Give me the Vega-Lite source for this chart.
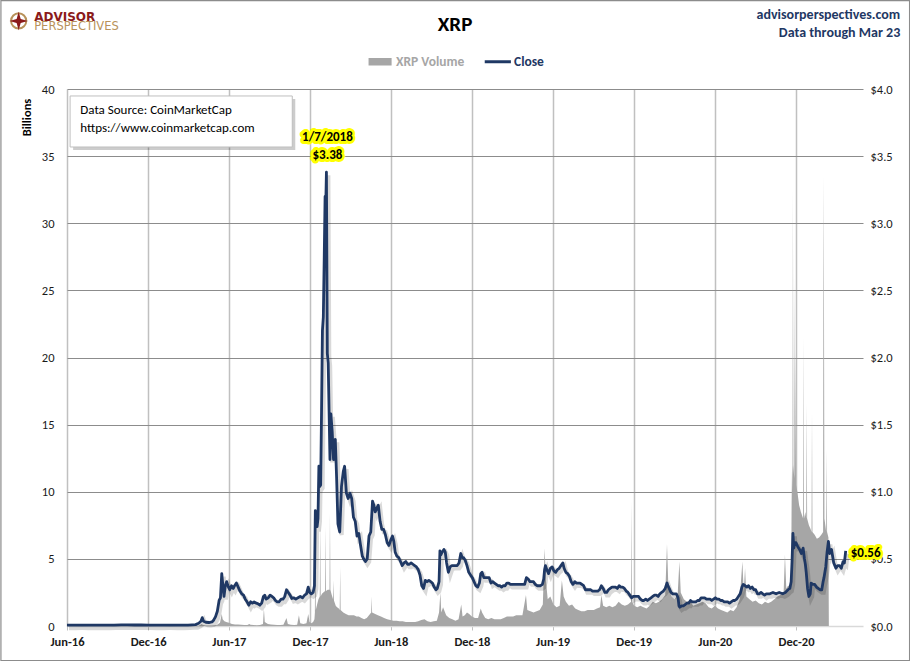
{
  "$schema": "https://vega.github.io/schema/vega-lite/v6.json",
  "width": 796,
  "height": 537,
  "autosize": "none",
  "padding": {"left": 67, "top": 89, "right": 47, "bottom": 35},
  "background": "white",
  "datasets": {
    "vol": [
      {"d":"2016-06-01","v":0.001},{"d":"2016-09-01","v":0.002},{"d":"2016-12-01","v":0.002},{"d":"2017-03-01","v":0.003},{"d":"2017-03-25","v":0.02},{"d":"2017-04-01","v":0.15},{"d":"2017-04-03","v":0.1},{"d":"2017-04-10","v":0.03},{"d":"2017-04-24","v":0.03},{"d":"2017-05-05","v":0.08},{"d":"2017-05-12","v":0.25},{"d":"2017-05-16","v":0.9},{"d":"2017-05-18","v":0.5},{"d":"2017-05-22","v":0.35},{"d":"2017-05-26","v":0.3},{"d":"2017-06-01","v":0.25},{"d":"2017-06-08","v":0.15},{"d":"2017-06-15","v":0.12},{"d":"2017-06-22","v":0.12},{"d":"2017-06-29","v":0.1},{"d":"2017-07-06","v":0.08},{"d":"2017-07-13","v":0.08},{"d":"2017-07-17","v":0.15},{"d":"2017-07-20","v":0.1},{"d":"2017-07-27","v":0.08},{"d":"2017-08-03","v":0.06},{"d":"2017-08-10","v":0.07},{"d":"2017-08-17","v":0.15},{"d":"2017-08-19","v":1.3},{"d":"2017-08-21","v":0.3},{"d":"2017-08-28","v":0.15},{"d":"2017-09-04","v":0.12},{"d":"2017-09-11","v":0.1},{"d":"2017-09-18","v":0.08},{"d":"2017-09-25","v":0.08},{"d":"2017-10-02","v":0.1},{"d":"2017-10-09","v":0.6},{"d":"2017-10-12","v":0.15},{"d":"2017-10-19","v":0.1},{"d":"2017-10-26","v":0.08},{"d":"2017-11-02","v":0.1},{"d":"2017-11-06","v":0.8},{"d":"2017-11-09","v":0.2},{"d":"2017-11-16","v":0.15},{"d":"2017-11-23","v":0.2},{"d":"2017-11-27","v":0.9},{"d":"2017-11-30","v":0.3},{"d":"2017-12-04","v":0.2},{"d":"2017-12-08","v":0.3},{"d":"2017-12-11","v":0.5},{"d":"2017-12-12","v":1.0},{"d":"2017-12-13","v":7.4},{"d":"2017-12-14","v":1.2},{"d":"2017-12-17","v":1.6},{"d":"2017-12-20","v":2.0},{"d":"2017-12-23","v":2.2},{"d":"2017-12-24","v":7.7},{"d":"2017-12-25","v":2.2},{"d":"2017-12-28","v":2.4},{"d":"2017-12-31","v":2.5},{"d":"2018-01-04","v":2.6},{"d":"2018-01-05","v":7.4},{"d":"2018-01-06","v":2.6},{"d":"2018-01-10","v":2.7},{"d":"2018-01-14","v":2.7},{"d":"2018-01-15","v":8.4},{"d":"2018-01-16","v":2.7},{"d":"2018-01-19","v":2.3},{"d":"2018-01-22","v":2.0},{"d":"2018-01-23","v":3.4},{"d":"2018-01-24","v":1.9},{"d":"2018-01-28","v":1.5},{"d":"2018-01-31","v":1.4},{"d":"2018-02-04","v":1.3},{"d":"2018-02-06","v":1.2},{"d":"2018-02-07","v":4.4},{"d":"2018-02-08","v":1.2},{"d":"2018-02-14","v":1.0},{"d":"2018-02-20","v":0.9},{"d":"2018-02-26","v":0.8},{"d":"2018-03-04","v":0.8},{"d":"2018-03-10","v":0.8},{"d":"2018-03-16","v":0.7},{"d":"2018-03-21","v":0.7},{"d":"2018-03-27","v":0.6},{"d":"2018-04-02","v":0.5},{"d":"2018-04-08","v":0.6},{"d":"2018-04-13","v":0.8},{"d":"2018-04-18","v":1.0},{"d":"2018-04-19","v":2.2},{"d":"2018-04-20","v":1.0},{"d":"2018-04-27","v":0.9},{"d":"2018-05-03","v":0.8},{"d":"2018-05-10","v":0.7},{"d":"2018-05-17","v":0.6},{"d":"2018-05-24","v":0.5},{"d":"2018-05-31","v":0.45},{"d":"2018-06-07","v":0.4},{"d":"2018-06-14","v":0.4},{"d":"2018-06-21","v":0.35},{"d":"2018-06-28","v":0.35},{"d":"2018-07-05","v":0.3},{"d":"2018-07-12","v":0.3},{"d":"2018-07-19","v":0.3},{"d":"2018-07-26","v":0.3},{"d":"2018-08-02","v":0.35},{"d":"2018-08-09","v":0.45},{"d":"2018-08-16","v":0.5},{"d":"2018-08-23","v":0.35},{"d":"2018-08-30","v":0.3},{"d":"2018-09-06","v":0.35},{"d":"2018-09-13","v":0.4},{"d":"2018-09-18","v":1.0},{"d":"2018-09-21","v":2.5},{"d":"2018-09-23","v":1.0},{"d":"2018-09-27","v":1.4},{"d":"2018-10-04","v":0.8},{"d":"2018-10-11","v":0.6},{"d":"2018-10-18","v":0.5},{"d":"2018-10-25","v":0.4},{"d":"2018-11-01","v":0.5},{"d":"2018-11-07","v":1.6},{"d":"2018-11-10","v":0.7},{"d":"2018-11-15","v":0.8},{"d":"2018-11-20","v":1.0},{"d":"2018-11-25","v":0.9},{"d":"2018-12-01","v":0.7},{"d":"2018-12-08","v":0.6},{"d":"2018-12-15","v":0.6},{"d":"2018-12-21","v":1.3},{"d":"2018-12-24","v":1.0},{"d":"2018-12-31","v":0.6},{"d":"2019-01-07","v":0.5},{"d":"2019-01-14","v":0.6},{"d":"2019-01-21","v":0.5},{"d":"2019-01-28","v":0.5},{"d":"2019-02-04","v":0.5},{"d":"2019-02-11","v":0.6},{"d":"2019-02-18","v":0.7},{"d":"2019-02-25","v":0.7},{"d":"2019-03-04","v":0.7},{"d":"2019-03-11","v":0.8},{"d":"2019-03-18","v":0.8},{"d":"2019-03-25","v":0.8},{"d":"2019-04-02","v":2.3},{"d":"2019-04-05","v":1.2},{"d":"2019-04-12","v":1.1},{"d":"2019-04-19","v":1.0},{"d":"2019-04-26","v":1.1},{"d":"2019-05-03","v":1.2},{"d":"2019-05-10","v":1.6},{"d":"2019-05-14","v":5.8},{"d":"2019-05-17","v":3.4},{"d":"2019-05-21","v":2.0},{"d":"2019-05-27","v":2.2},{"d":"2019-06-03","v":1.6},{"d":"2019-06-10","v":1.4},{"d":"2019-06-17","v":1.5},{"d":"2019-06-22","v":3.4},{"d":"2019-06-26","v":2.2},{"d":"2019-07-01","v":1.8},{"d":"2019-07-08","v":1.5},{"d":"2019-07-15","v":1.6},{"d":"2019-07-22","v":1.3},{"d":"2019-07-29","v":1.2},{"d":"2019-08-05","v":1.1},{"d":"2019-08-12","v":1.1},{"d":"2019-08-19","v":1.2},{"d":"2019-08-26","v":1.2},{"d":"2019-09-02","v":1.2},{"d":"2019-09-09","v":1.3},{"d":"2019-09-16","v":1.4},{"d":"2019-09-19","v":2.3},{"d":"2019-09-23","v":1.5},{"d":"2019-09-30","v":1.4},{"d":"2019-10-07","v":1.5},{"d":"2019-10-14","v":1.4},{"d":"2019-10-21","v":1.5},{"d":"2019-10-28","v":1.8},{"d":"2019-11-04","v":1.6},{"d":"2019-11-11","v":1.5},{"d":"2019-11-18","v":1.6},{"d":"2019-11-25","v":1.8},{"d":"2019-11-26","v":9.3},{"d":"2019-11-27","v":1.8},{"d":"2019-12-02","v":1.5},{"d":"2019-12-09","v":1.4},{"d":"2019-12-16","v":1.5},{"d":"2019-12-23","v":1.4},{"d":"2019-12-30","v":1.3},{"d":"2020-01-06","v":1.5},{"d":"2020-01-13","v":1.8},{"d":"2020-01-20","v":1.7},{"d":"2020-01-27","v":1.8},{"d":"2020-02-03","v":2.0},{"d":"2020-02-10","v":2.3},{"d":"2020-02-14","v":6.1},{"d":"2020-02-17","v":3.0},{"d":"2020-02-24","v":2.2},{"d":"2020-03-02","v":2.0},{"d":"2020-03-09","v":2.3},{"d":"2020-03-13","v":4.8},{"d":"2020-03-16","v":2.5},{"d":"2020-03-23","v":2.0},{"d":"2020-03-30","v":1.8},{"d":"2020-04-06","v":1.9},{"d":"2020-04-13","v":1.5},{"d":"2020-04-20","v":1.6},{"d":"2020-04-27","v":1.7},{"d":"2020-05-04","v":1.8},{"d":"2020-05-11","v":1.7},{"d":"2020-05-18","v":1.4},{"d":"2020-05-25","v":1.3},{"d":"2020-06-01","v":1.5},{"d":"2020-06-08","v":1.3},{"d":"2020-06-15","v":1.2},{"d":"2020-06-22","v":1.1},{"d":"2020-06-29","v":1.0},{"d":"2020-07-06","v":1.2},{"d":"2020-07-13","v":1.1},{"d":"2020-07-20","v":1.4},{"d":"2020-07-27","v":2.0},{"d":"2020-08-02","v":4.8},{"d":"2020-08-05","v":2.5},{"d":"2020-08-08","v":4.3},{"d":"2020-08-11","v":2.2},{"d":"2020-08-18","v":2.0},{"d":"2020-08-25","v":1.8},{"d":"2020-09-01","v":1.9},{"d":"2020-09-08","v":1.7},{"d":"2020-09-15","v":1.6},{"d":"2020-09-22","v":1.8},{"d":"2020-09-29","v":1.7},{"d":"2020-10-06","v":1.8},{"d":"2020-10-13","v":2.0},{"d":"2020-10-20","v":2.2},{"d":"2020-10-27","v":2.3},{"d":"2020-11-03","v":2.5},{"d":"2020-11-06","v":5.3},{"d":"2020-11-09","v":2.8},{"d":"2020-11-13","v":3.0},{"d":"2020-11-17","v":3.0},{"d":"2020-11-20","v":3.5},{"d":"2020-11-21","v":9},{"d":"2020-11-22","v":12},{"d":"2020-11-23","v":10},{"d":"2020-11-24","v":32.5},{"d":"2020-11-25","v":12},{"d":"2020-11-27","v":11},{"d":"2020-11-28","v":26},{"d":"2020-11-29","v":11},{"d":"2020-11-30","v":20.5},{"d":"2020-12-01","v":10.5},{"d":"2020-12-04","v":10},{"d":"2020-12-08","v":9},{"d":"2020-12-12","v":8.5},{"d":"2020-12-17","v":8},{"d":"2020-12-18","v":21.5},{"d":"2020-12-19","v":8},{"d":"2020-12-22","v":8.5},{"d":"2020-12-24","v":8},{"d":"2020-12-25","v":16.6},{"d":"2020-12-26","v":8},{"d":"2020-12-30","v":7.5},{"d":"2021-01-03","v":7.2},{"d":"2021-01-05","v":7},{"d":"2021-01-06","v":15.9},{"d":"2021-01-07","v":7},{"d":"2021-01-12","v":6.8},{"d":"2021-01-17","v":6.5},{"d":"2021-01-22","v":6.6},{"d":"2021-01-27","v":6.8},{"d":"2021-01-31","v":7},{"d":"2021-02-01","v":33.5},{"d":"2021-02-02","v":24.3},{"d":"2021-02-03","v":8},{"d":"2021-02-07","v":7},{"d":"2021-02-08","v":13.1},{"d":"2021-02-09","v":7},{"d":"2021-02-12","v":6.6},{"d":"2021-02-13","v":0}
    ],
    "px": [
      {"d":"2016-06-01","c":0.0065},{"d":"2016-06-15","c":0.006},{"d":"2016-07-01","c":0.0066},{"d":"2016-07-15","c":0.0064},{"d":"2016-08-01","c":0.0062},{"d":"2016-08-15","c":0.0062},{"d":"2016-09-01","c":0.0065},{"d":"2016-09-15","c":0.007},{"d":"2016-10-01","c":0.0078},{"d":"2016-10-15","c":0.008},{"d":"2016-11-01","c":0.0076},{"d":"2016-11-15","c":0.0085},{"d":"2016-12-01","c":0.007},{"d":"2016-12-15","c":0.0064},{"d":"2017-01-01","c":0.0064},{"d":"2017-01-15","c":0.0068},{"d":"2017-02-01","c":0.0063},{"d":"2017-02-15","c":0.0065},{"d":"2017-03-01","c":0.007},{"d":"2017-03-10","c":0.0085},{"d":"2017-03-18","c":0.01},{"d":"2017-03-25","c":0.02},{"d":"2017-03-30","c":0.035},{"d":"2017-04-02","c":0.062},{"d":"2017-04-05","c":0.035},{"d":"2017-04-10","c":0.028},{"d":"2017-04-17","c":0.026},{"d":"2017-04-24","c":0.03},{"d":"2017-04-28","c":0.045},{"d":"2017-05-02","c":0.07},{"d":"2017-05-06","c":0.11},{"d":"2017-05-10","c":0.19},{"d":"2017-05-13","c":0.21},{"d":"2017-05-16","c":0.39},{"d":"2017-05-18","c":0.32},{"d":"2017-05-21","c":0.22},{"d":"2017-05-24","c":0.3},{"d":"2017-05-27","c":0.33},{"d":"2017-05-31","c":0.29},{"d":"2017-06-03","c":0.27},{"d":"2017-06-07","c":0.3},{"d":"2017-06-11","c":0.28},{"d":"2017-06-14","c":0.3},{"d":"2017-06-18","c":0.32},{"d":"2017-06-22","c":0.29},{"d":"2017-06-26","c":0.26},{"d":"2017-06-30","c":0.24},{"d":"2017-07-04","c":0.23},{"d":"2017-07-08","c":0.2},{"d":"2017-07-12","c":0.18},{"d":"2017-07-16","c":0.155},{"d":"2017-07-20","c":0.18},{"d":"2017-07-24","c":0.17},{"d":"2017-07-28","c":0.18},{"d":"2017-08-02","c":0.17},{"d":"2017-08-06","c":0.165},{"d":"2017-08-10","c":0.155},{"d":"2017-08-14","c":0.17},{"d":"2017-08-18","c":0.22},{"d":"2017-08-21","c":0.23},{"d":"2017-08-24","c":0.2},{"d":"2017-08-29","c":0.21},{"d":"2017-09-02","c":0.23},{"d":"2017-09-06","c":0.22},{"d":"2017-09-10","c":0.21},{"d":"2017-09-14","c":0.19},{"d":"2017-09-18","c":0.18},{"d":"2017-09-22","c":0.18},{"d":"2017-09-27","c":0.2},{"d":"2017-10-01","c":0.2},{"d":"2017-10-05","c":0.22},{"d":"2017-10-09","c":0.27},{"d":"2017-10-13","c":0.25},{"d":"2017-10-17","c":0.23},{"d":"2017-10-21","c":0.205},{"d":"2017-10-25","c":0.21},{"d":"2017-10-30","c":0.2},{"d":"2017-11-04","c":0.21},{"d":"2017-11-09","c":0.22},{"d":"2017-11-14","c":0.21},{"d":"2017-11-19","c":0.23},{"d":"2017-11-23","c":0.24},{"d":"2017-11-27","c":0.29},{"d":"2017-11-30","c":0.25},{"d":"2017-12-04","c":0.24},{"d":"2017-12-08","c":0.25},{"d":"2017-12-11","c":0.3},{"d":"2017-12-13","c":0.86},{"d":"2017-12-15","c":0.74},{"d":"2017-12-17","c":0.74},{"d":"2017-12-19","c":0.8},{"d":"2017-12-21","c":1.19},{"d":"2017-12-23","c":1.04},{"d":"2017-12-25","c":1.05},{"d":"2017-12-27","c":1.6},{"d":"2017-12-29","c":2.2},{"d":"2017-12-31","c":2.3},{"d":"2018-01-02","c":2.73},{"d":"2018-01-04","c":3.2},{"d":"2018-01-05","c":3.05},{"d":"2018-01-07","c":3.38},{"d":"2018-01-09","c":2.03},{"d":"2018-01-11","c":1.96},{"d":"2018-01-15","c":1.24},{"d":"2018-01-17","c":1.58},{"d":"2018-01-20","c":1.45},{"d":"2018-01-23","c":1.24},{"d":"2018-01-27","c":1.39},{"d":"2018-01-30","c":1.1},{"d":"2018-02-02","c":0.76},{"d":"2018-02-06","c":0.7},{"d":"2018-02-10","c":1.04},{"d":"2018-02-14","c":1.15},{"d":"2018-02-17","c":1.19},{"d":"2018-02-21","c":0.99},{"d":"2018-02-25","c":0.95},{"d":"2018-03-01","c":0.99},{"d":"2018-03-05","c":0.95},{"d":"2018-03-09","c":0.81},{"d":"2018-03-13","c":0.78},{"d":"2018-03-17","c":0.67},{"d":"2018-03-21","c":0.69},{"d":"2018-03-25","c":0.6},{"d":"2018-03-29","c":0.52},{"d":"2018-04-01","c":0.5},{"d":"2018-04-05","c":0.48},{"d":"2018-04-09","c":0.5},{"d":"2018-04-13","c":0.67},{"d":"2018-04-17","c":0.7},{"d":"2018-04-21","c":0.93},{"d":"2018-04-24","c":0.9},{"d":"2018-04-27","c":0.85},{"d":"2018-05-01","c":0.88},{"d":"2018-05-04","c":0.9},{"d":"2018-05-08","c":0.78},{"d":"2018-05-12","c":0.72},{"d":"2018-05-16","c":0.72},{"d":"2018-05-20","c":0.68},{"d":"2018-05-24","c":0.62},{"d":"2018-05-28","c":0.6},{"d":"2018-06-01","c":0.64},{"d":"2018-06-05","c":0.67},{"d":"2018-06-08","c":0.63},{"d":"2018-06-11","c":0.55},{"d":"2018-06-15","c":0.52},{"d":"2018-06-19","c":0.51},{"d":"2018-06-23","c":0.48},{"d":"2018-06-27","c":0.45},{"d":"2018-07-01","c":0.47},{"d":"2018-07-05","c":0.48},{"d":"2018-07-09","c":0.46},{"d":"2018-07-13","c":0.46},{"d":"2018-07-17","c":0.47},{"d":"2018-07-21","c":0.46},{"d":"2018-07-25","c":0.45},{"d":"2018-07-29","c":0.44},{"d":"2018-08-02","c":0.42},{"d":"2018-08-06","c":0.38},{"d":"2018-08-10","c":0.3},{"d":"2018-08-14","c":0.28},{"d":"2018-08-18","c":0.34},{"d":"2018-08-22","c":0.33},{"d":"2018-08-26","c":0.34},{"d":"2018-08-30","c":0.33},{"d":"2018-09-03","c":0.32},{"d":"2018-09-07","c":0.29},{"d":"2018-09-11","c":0.27},{"d":"2018-09-14","c":0.28},{"d":"2018-09-18","c":0.33},{"d":"2018-09-20","c":0.56},{"d":"2018-09-22","c":0.53},{"d":"2018-09-25","c":0.55},{"d":"2018-09-29","c":0.57},{"d":"2018-10-02","c":0.55},{"d":"2018-10-05","c":0.47},{"d":"2018-10-09","c":0.4},{"d":"2018-10-13","c":0.44},{"d":"2018-10-17","c":0.45},{"d":"2018-10-21","c":0.45},{"d":"2018-10-25","c":0.45},{"d":"2018-10-29","c":0.45},{"d":"2018-11-02","c":0.47},{"d":"2018-11-06","c":0.54},{"d":"2018-11-09","c":0.51},{"d":"2018-11-12","c":0.51},{"d":"2018-11-16","c":0.49},{"d":"2018-11-20","c":0.45},{"d":"2018-11-24","c":0.4},{"d":"2018-11-28","c":0.38},{"d":"2018-12-02","c":0.36},{"d":"2018-12-06","c":0.33},{"d":"2018-12-10","c":0.3},{"d":"2018-12-14","c":0.29},{"d":"2018-12-18","c":0.32},{"d":"2018-12-21","c":0.39},{"d":"2018-12-24","c":0.4},{"d":"2018-12-28","c":0.36},{"d":"2019-01-01","c":0.36},{"d":"2019-01-05","c":0.36},{"d":"2019-01-09","c":0.36},{"d":"2019-01-13","c":0.32},{"d":"2019-01-17","c":0.33},{"d":"2019-01-21","c":0.32},{"d":"2019-01-25","c":0.31},{"d":"2019-01-29","c":0.3},{"d":"2019-02-02","c":0.3},{"d":"2019-02-06","c":0.29},{"d":"2019-02-10","c":0.3},{"d":"2019-02-14","c":0.3},{"d":"2019-02-18","c":0.32},{"d":"2019-02-22","c":0.32},{"d":"2019-02-26","c":0.31},{"d":"2019-03-02","c":0.31},{"d":"2019-03-06","c":0.31},{"d":"2019-03-10","c":0.31},{"d":"2019-03-14","c":0.31},{"d":"2019-03-18","c":0.31},{"d":"2019-03-22","c":0.31},{"d":"2019-03-26","c":0.31},{"d":"2019-03-30","c":0.31},{"d":"2019-04-03","c":0.36},{"d":"2019-04-07","c":0.35},{"d":"2019-04-11","c":0.33},{"d":"2019-04-15","c":0.33},{"d":"2019-04-19","c":0.33},{"d":"2019-04-23","c":0.31},{"d":"2019-04-27","c":0.3},{"d":"2019-05-01","c":0.3},{"d":"2019-05-05","c":0.3},{"d":"2019-05-09","c":0.31},{"d":"2019-05-12","c":0.35},{"d":"2019-05-14","c":0.42},{"d":"2019-05-16","c":0.45},{"d":"2019-05-19","c":0.42},{"d":"2019-05-23","c":0.39},{"d":"2019-05-27","c":0.43},{"d":"2019-05-31","c":0.44},{"d":"2019-06-04","c":0.41},{"d":"2019-06-08","c":0.4},{"d":"2019-06-12","c":0.42},{"d":"2019-06-16","c":0.43},{"d":"2019-06-20","c":0.45},{"d":"2019-06-24","c":0.47},{"d":"2019-06-27","c":0.43},{"d":"2019-07-01","c":0.4},{"d":"2019-07-05","c":0.39},{"d":"2019-07-09","c":0.37},{"d":"2019-07-13","c":0.33},{"d":"2019-07-17","c":0.31},{"d":"2019-07-21","c":0.33},{"d":"2019-07-25","c":0.32},{"d":"2019-07-29","c":0.32},{"d":"2019-08-02","c":0.32},{"d":"2019-08-06","c":0.31},{"d":"2019-08-10","c":0.3},{"d":"2019-08-14","c":0.27},{"d":"2019-08-18","c":0.27},{"d":"2019-08-22","c":0.27},{"d":"2019-08-26","c":0.27},{"d":"2019-08-30","c":0.26},{"d":"2019-09-03","c":0.26},{"d":"2019-09-07","c":0.26},{"d":"2019-09-11","c":0.26},{"d":"2019-09-15","c":0.27},{"d":"2019-09-19","c":0.3},{"d":"2019-09-23","c":0.28},{"d":"2019-09-27","c":0.25},{"d":"2019-10-01","c":0.25},{"d":"2019-10-05","c":0.27},{"d":"2019-10-09","c":0.28},{"d":"2019-10-13","c":0.29},{"d":"2019-10-17","c":0.29},{"d":"2019-10-21","c":0.29},{"d":"2019-10-25","c":0.28},{"d":"2019-10-29","c":0.3},{"d":"2019-11-02","c":0.29},{"d":"2019-11-06","c":0.29},{"d":"2019-11-10","c":0.28},{"d":"2019-11-14","c":0.26},{"d":"2019-11-18","c":0.25},{"d":"2019-11-22","c":0.23},{"d":"2019-11-26","c":0.21},{"d":"2019-11-30","c":0.22},{"d":"2019-12-04","c":0.22},{"d":"2019-12-08","c":0.22},{"d":"2019-12-12","c":0.22},{"d":"2019-12-16","c":0.2},{"d":"2019-12-20","c":0.19},{"d":"2019-12-24","c":0.19},{"d":"2019-12-28","c":0.2},{"d":"2020-01-01","c":0.19},{"d":"2020-01-05","c":0.2},{"d":"2020-01-09","c":0.21},{"d":"2020-01-13","c":0.22},{"d":"2020-01-17","c":0.23},{"d":"2020-01-21","c":0.23},{"d":"2020-01-25","c":0.22},{"d":"2020-01-29","c":0.24},{"d":"2020-02-02","c":0.25},{"d":"2020-02-06","c":0.26},{"d":"2020-02-10","c":0.28},{"d":"2020-02-14","c":0.32},{"d":"2020-02-16","c":0.3},{"d":"2020-02-19","c":0.28},{"d":"2020-02-23","c":0.25},{"d":"2020-02-27","c":0.24},{"d":"2020-03-02","c":0.24},{"d":"2020-03-06","c":0.24},{"d":"2020-03-10","c":0.21},{"d":"2020-03-12","c":0.15},{"d":"2020-03-14","c":0.14},{"d":"2020-03-18","c":0.15},{"d":"2020-03-22","c":0.15},{"d":"2020-03-26","c":0.16},{"d":"2020-03-30","c":0.17},{"d":"2020-04-03","c":0.17},{"d":"2020-04-07","c":0.19},{"d":"2020-04-11","c":0.18},{"d":"2020-04-15","c":0.18},{"d":"2020-04-19","c":0.18},{"d":"2020-04-23","c":0.19},{"d":"2020-04-27","c":0.19},{"d":"2020-05-01","c":0.21},{"d":"2020-05-05","c":0.21},{"d":"2020-05-09","c":0.21},{"d":"2020-05-13","c":0.2},{"d":"2020-05-17","c":0.2},{"d":"2020-05-21","c":0.2},{"d":"2020-05-25","c":0.19},{"d":"2020-05-29","c":0.2},{"d":"2020-06-02","c":0.21},{"d":"2020-06-06","c":0.2},{"d":"2020-06-10","c":0.2},{"d":"2020-06-14","c":0.19},{"d":"2020-06-18","c":0.19},{"d":"2020-06-22","c":0.18},{"d":"2020-06-26","c":0.18},{"d":"2020-06-30","c":0.18},{"d":"2020-07-04","c":0.17},{"d":"2020-07-08","c":0.18},{"d":"2020-07-12","c":0.19},{"d":"2020-07-16","c":0.19},{"d":"2020-07-20","c":0.2},{"d":"2020-07-24","c":0.22},{"d":"2020-07-28","c":0.24},{"d":"2020-08-01","c":0.29},{"d":"2020-08-04","c":0.31},{"d":"2020-08-08","c":0.3},{"d":"2020-08-12","c":0.29},{"d":"2020-08-16","c":0.3},{"d":"2020-08-20","c":0.28},{"d":"2020-08-24","c":0.29},{"d":"2020-08-28","c":0.27},{"d":"2020-09-01","c":0.27},{"d":"2020-09-05","c":0.24},{"d":"2020-09-09","c":0.24},{"d":"2020-09-13","c":0.25},{"d":"2020-09-17","c":0.24},{"d":"2020-09-21","c":0.23},{"d":"2020-09-25","c":0.24},{"d":"2020-09-29","c":0.24},{"d":"2020-10-03","c":0.24},{"d":"2020-10-10","c":0.25},{"d":"2020-10-17","c":0.24},{"d":"2020-10-24","c":0.25},{"d":"2020-11-01","c":0.24},{"d":"2020-11-07","c":0.25},{"d":"2020-11-13","c":0.27},{"d":"2020-11-17","c":0.28},{"d":"2020-11-20","c":0.33},{"d":"2020-11-22","c":0.48},{"d":"2020-11-24","c":0.69},{"d":"2020-11-26","c":0.58},{"d":"2020-11-28","c":0.62},{"d":"2020-12-01","c":0.62},{"d":"2020-12-05","c":0.59},{"d":"2020-12-09","c":0.57},{"d":"2020-12-13","c":0.54},{"d":"2020-12-17","c":0.58},{"d":"2020-12-20","c":0.5},{"d":"2020-12-22","c":0.46},{"d":"2020-12-24","c":0.4},{"d":"2020-12-27","c":0.28},{"d":"2020-12-30","c":0.22},{"d":"2021-01-02","c":0.24},{"d":"2021-01-04","c":0.32},{"d":"2021-01-08","c":0.31},{"d":"2021-01-12","c":0.31},{"d":"2021-01-16","c":0.29},{"d":"2021-01-20","c":0.28},{"d":"2021-01-24","c":0.27},{"d":"2021-01-28","c":0.27},{"d":"2021-01-31","c":0.33},{"d":"2021-02-02","c":0.36},{"d":"2021-02-06","c":0.44},{"d":"2021-02-09","c":0.55},{"d":"2021-02-12","c":0.63},{"d":"2021-02-15","c":0.54},{"d":"2021-02-19","c":0.57},{"d":"2021-02-24","c":0.47},{"d":"2021-03-01","c":0.43},{"d":"2021-03-05","c":0.45},{"d":"2021-03-09","c":0.45},{"d":"2021-03-13","c":0.43},{"d":"2021-03-17","c":0.48},{"d":"2021-03-20","c":0.47},{"d":"2021-03-23","c":0.56}
    ]
  },
  "layer": [
    {
      "layer": [
        {
          "data": {"values": [{}]},
          "mark": {"type": "rect", "fill": null, "stroke": "#8c8c8c", "strokeWidth": 1.2},
          "encoding": {
            "x": {"datum": {"year": 2016, "month": 1, "date": 4, "utc": true}, "type": "temporal"},
            "x2": {"datum": {"year": 2021, "month": 8, "date": 14, "utc": true}},
            "y": {"datum": 46.59, "type": "quantitative"},
            "y2": {"datum": -2.57}
          }
        },
        {
          "data": {"name": "vol"},
          "mark": {"type": "area", "interpolate": "linear", "color": "#a6a6a6", "opacity": 1},
          "encoding": {
            "x": {
              "field": "d",
              "type": "temporal",
              "scale": {
                "type": "utc",
                "domain": [
                  {"year": 2016, "month": 6, "date": 1, "utc": true},
                  {"year": 2021, "month": 5, "date": 1, "utc": true}
                ]
              },
              "axis": {
                "values": [
                  {"year": 2016, "month": 6, "date": 1, "utc": true},
                  {"year": 2016, "month": 12, "date": 1, "utc": true},
                  {"year": 2017, "month": 6, "date": 1, "utc": true},
                  {"year": 2017, "month": 12, "date": 1, "utc": true},
                  {"year": 2018, "month": 6, "date": 1, "utc": true},
                  {"year": 2018, "month": 12, "date": 1, "utc": true},
                  {"year": 2019, "month": 6, "date": 1, "utc": true},
                  {"year": 2019, "month": 12, "date": 1, "utc": true},
                  {"year": 2020, "month": 6, "date": 1, "utc": true},
                  {"year": 2020, "month": 12, "date": 1, "utc": true}
                ],
                "format": "%b-%y",
                "title": null,
                "grid": true,
                "gridColor": "#c0c0c0",
                "gridWidth": 1.5,
                "ticks": true,
                "tickColor": "#c0c0c0",
                "tickSize": 4,
                "domainColor": "#d9d9d9",
                "domainWidth": 1.5,
                "labelFontWeight": "bold",
                "labelFontSize": 12.5,
                "labelColor": "#1a1a1a",
                "labelPadding": 5,
                "labelFlush": false
              }
            },
            "y": {
              "field": "v",
              "type": "quantitative",
              "scale": {"domain": [0, 40], "nice": false},
              "axis": {
                "orient": "left",
                "values": [0, 5, 10, 15, 20, 25, 30, 35, 40],
                "title": "Billions",
                "titleFontWeight": "bold",
                "titleFontSize": 12.5,
                "titleColor": "#000000",
                "titleX": -41,
                "titleY": 28,
                "titleAlign": "center",
                "titleBaseline": "middle",
                "titleAngle": -90,
                "grid": true,
                "gridColor": {"condition": {"test": "datum.value === 0", "value": "transparent"}, "value": "#8c8c8c"},
                "ticks": false,
                "domain": false,
                "labelFontSize": 12.5,
                "labelColor": "#1a1a1a",
                "labelPadding": 13
              }
            }
          }
        },
        {
          "data": {"values": [{}]},
          "mark": {"type": "rect", "fill": "#000000", "opacity": 0.2, "xOffset": 3, "x2Offset": 3, "yOffset": 3, "y2Offset": 3},
          "encoding": {
            "x": {"datum": {"year": 2016, "month": 6, "date": 8, "utc": true}, "type": "temporal"},
            "x2": {"datum": {"year": 2017, "month": 10, "date": 22, "utc": true}},
            "y": {"datum": 39.48, "type": "quantitative"},
            "y2": {"datum": 35.68}
          }
        },
        {
          "data": {"values": [{}]},
          "mark": {"type": "rect", "fill": "#ffffff", "stroke": "#bfbfbf", "strokeWidth": 1},
          "encoding": {
            "x": {"datum": {"year": 2016, "month": 6, "date": 8, "utc": true}, "type": "temporal"},
            "x2": {"datum": {"year": 2017, "month": 10, "date": 22, "utc": true}},
            "y": {"datum": 39.48, "type": "quantitative"},
            "y2": {"datum": 35.68}
          }
        },
        {
          "data": {"values": [{}]},
          "mark": {"type": "text", "align": "left", "baseline": "middle", "fontSize": 13, "color": "#000000"},
          "encoding": {
            "x": {"datum": {"year": 2016, "month": 7, "date": 1, "utc": true}, "type": "temporal"},
            "y": {"datum": 38.44, "type": "quantitative"},
            "text": {"value": "Data Source: CoinMarketCap"}
          }
        },
        {
          "data": {"values": [{}]},
          "mark": {"type": "text", "align": "left", "baseline": "middle", "fontSize": 13, "color": "#000000"},
          "encoding": {
            "x": {"datum": {"year": 2016, "month": 7, "date": 1, "utc": true}, "type": "temporal"},
            "y": {"datum": 37.09, "type": "quantitative"},
            "text": {"value": "https://www.coinmarketcap.com"}
          }
        },
        {
          "data": {"values": [{}]},
          "mark": {"type": "text", "align": "center", "baseline": "middle", "fontSize": 21, "fontWeight": "bold", "color": "#000000"},
          "encoding": {
            "x": {"datum": {"year": 2018, "month": 10, "date": 24, "utc": true}, "type": "temporal"},
            "y": {"datum": 44.77, "type": "quantitative"},
            "text": {"value": "XRP"}
          }
        },
        {
          "data": {"values": [{}]},
          "mark": {"type": "text", "align": "right", "baseline": "middle", "fontSize": 14, "fontWeight": "bold", "color": "#1f3864"},
          "encoding": {
            "x": {"datum": {"year": 2021, "month": 7, "date": 24, "utc": true}, "type": "temporal"},
            "y": {"datum": 45.51, "type": "quantitative"},
            "text": {"value": "advisorperspectives.com"}
          }
        },
        {
          "data": {"values": [{}]},
          "mark": {"type": "text", "align": "right", "baseline": "middle", "fontSize": 14, "fontWeight": "bold", "color": "#1f3864"},
          "encoding": {
            "x": {"datum": {"year": 2021, "month": 7, "date": 24, "utc": true}, "type": "temporal"},
            "y": {"datum": 44.17, "type": "quantitative"},
            "text": {"value": "Data through Mar 23"}
          }
        },
        {
          "data": {"values": [{}]},
          "mark": {"type": "rect", "fill": "#a6a6a6"},
          "encoding": {
            "x": {"datum": {"year": 2018, "month": 4, "date": 12, "utc": true}, "type": "temporal"},
            "x2": {"datum": {"year": 2018, "month": 6, "date": 3, "utc": true}},
            "y": {"datum": 42.31, "type": "quantitative"},
            "y2": {"datum": 41.75}
          }
        },
        {
          "data": {"values": [{}]},
          "mark": {"type": "text", "align": "left", "baseline": "middle", "fontSize": 13.5, "fontWeight": "bold", "color": "#a6a6a6"},
          "encoding": {
            "x": {"datum": {"year": 2018, "month": 6, "date": 13, "utc": true}, "type": "temporal"},
            "y": {"datum": 42.03, "type": "quantitative"},
            "text": {"value": "XRP Volume"}
          }
        },
        {
          "data": {"values": [{}]},
          "mark": {"type": "rule", "color": "#1f3864", "strokeWidth": 3},
          "encoding": {
            "x": {"datum": {"year": 2018, "month": 12, "date": 30, "utc": true}, "type": "temporal"},
            "x2": {"datum": {"year": 2019, "month": 2, "date": 27, "utc": true}},
            "y": {"datum": 42.03, "type": "quantitative"}
          }
        },
        {
          "data": {"values": [{}]},
          "mark": {"type": "text", "align": "left", "baseline": "middle", "fontSize": 13.5, "fontWeight": "bold", "color": "#1f3864"},
          "encoding": {
            "x": {"datum": {"year": 2019, "month": 3, "date": 6, "utc": true}, "type": "temporal"},
            "y": {"datum": 42.03, "type": "quantitative"},
            "text": {"value": "Close"}
          }
        },
        {
          "data": {"values": [{}]},
          "mark": {"type": "point", "shape": "circle", "size": 230, "filled": false, "stroke": "#b8925a", "strokeWidth": 2, "opacity": 1},
          "encoding": {
            "x": {"datum": {"year": 2016, "month": 2, "date": 13, "utc": true}, "type": "temporal"},
            "y": {"datum": 45.07, "type": "quantitative"}
          }
        },
        {
          "data": {"values": [{}]},
          "mark": {"type": "point", "shape": "M0,-1L0.22,-0.22L1,0L0.22,0.22L0,1L-0.22,0.22L-1,0L-0.22,-0.22Z", "size": 340, "filled": true, "fill": "#8b1a1a", "opacity": 1},
          "encoding": {
            "x": {"datum": {"year": 2016, "month": 2, "date": 13, "utc": true}, "type": "temporal"},
            "y": {"datum": 45.07, "type": "quantitative"}
          }
        },
        {
          "data": {"values": [{}]},
          "mark": {"type": "text", "align": "left", "baseline": "alphabetic", "font": "DejaVu Sans", "fontSize": 12, "fontWeight": "bold", "color": "#8b1a1a"},
          "encoding": {
            "x": {"datum": {"year": 2016, "month": 3, "date": 19, "utc": true}, "type": "temporal"},
            "y": {"datum": 45.06, "type": "quantitative"},
            "text": {"value": "ADVISOR"}
          }
        },
        {
          "data": {"values": [{}]},
          "mark": {"type": "text", "align": "left", "baseline": "alphabetic", "font": "DejaVu Sans", "fontSize": 11.5, "color": "#b8925a"},
          "encoding": {
            "x": {"datum": {"year": 2016, "month": 3, "date": 19, "utc": true}, "type": "temporal"},
            "y": {"datum": 44.4, "type": "quantitative"},
            "text": {"value": "PERSPECTIVES"}
          }
        }
      ]
    },
    {
      "layer": [
        {
          "data": {"name": "px"},
          "mark": {"type": "line", "color": "#000000", "opacity": 0.15, "strokeWidth": 4, "xOffset": 2, "yOffset": 3},
          "encoding": {
            "x": {"field": "d", "type": "temporal"},
            "y": {
              "field": "c",
              "type": "quantitative",
              "scale": {"domain": [0, 4], "nice": false},
              "axis": {
                "orient": "right",
                "values": [0, 0.5, 1, 1.5, 2, 2.5, 3, 3.5, 4],
                "format": "$.1f",
                "title": null,
                "grid": false,
                "ticks": false,
                "domain": false,
                "labelFontSize": 12.5,
                "labelColor": "#1a1a1a",
                "labelPadding": 7
              }
            }
          }
        },
        {
          "data": {"name": "px"},
          "mark": {"type": "line", "color": "#1f3864", "strokeWidth": 2.8, "strokeJoin": "round"},
          "encoding": {
            "x": {"field": "d", "type": "temporal"},
            "y": {
              "field": "c",
              "type": "quantitative",
              "scale": {"domain": [0, 4], "nice": false},
              "axis": {
                "orient": "right",
                "values": [0, 0.5, 1, 1.5, 2, 2.5, 3, 3.5, 4],
                "format": "$.1f",
                "title": null,
                "grid": false,
                "ticks": false,
                "domain": false,
                "labelFontSize": 12.5,
                "labelColor": "#1a1a1a",
                "labelPadding": 7
              }
            }
          }
        },
        {
          "data": {"values": [{}]},
          "mark": {"type": "text", "align": "center", "baseline": "middle", "fontSize": 13, "fontWeight": "bold", "color": "#ffff00", "stroke": "#ffff00", "strokeWidth": 6, "strokeJoin": "round", "dx": 1, "dy": -35},
          "encoding": {
            "x": {"datum": {"year": 2018, "month": 1, "date": 7, "utc": true}, "type": "temporal"},
            "y": {"datum": 3.38, "type": "quantitative"},
            "text": {"value": "1/7/2018"}
          }
        },
        {
          "data": {"values": [{}]},
          "mark": {"type": "text", "align": "center", "baseline": "middle", "fontSize": 13, "fontWeight": "bold", "color": "#ffff00", "stroke": "#ffff00", "strokeWidth": 6, "strokeJoin": "round", "dx": 1, "dy": -17},
          "encoding": {
            "x": {"datum": {"year": 2018, "month": 1, "date": 7, "utc": true}, "type": "temporal"},
            "y": {"datum": 3.38, "type": "quantitative"},
            "text": {"value": "$3.38"}
          }
        },
        {
          "data": {"values": [{}]},
          "mark": {"type": "text", "align": "left", "baseline": "middle", "fontSize": 13, "fontWeight": "bold", "color": "#ffff00", "stroke": "#ffff00", "strokeWidth": 6, "strokeJoin": "round", "dx": 5, "dy": 2},
          "encoding": {
            "x": {"datum": {"year": 2021, "month": 3, "date": 23, "utc": true}, "type": "temporal"},
            "y": {"datum": 0.56, "type": "quantitative"},
            "text": {"value": "$0.56"}
          }
        },
        {
          "data": {"values": [{}]},
          "mark": {"type": "text", "align": "center", "baseline": "middle", "fontSize": 13, "fontWeight": "bold", "color": "#000000", "dx": 1, "dy": -35},
          "encoding": {
            "x": {"datum": {"year": 2018, "month": 1, "date": 7, "utc": true}, "type": "temporal"},
            "y": {"datum": 3.38, "type": "quantitative"},
            "text": {"value": "1/7/2018"}
          }
        },
        {
          "data": {"values": [{}]},
          "mark": {"type": "text", "align": "center", "baseline": "middle", "fontSize": 13, "fontWeight": "bold", "color": "#000000", "dx": 1, "dy": -17},
          "encoding": {
            "x": {"datum": {"year": 2018, "month": 1, "date": 7, "utc": true}, "type": "temporal"},
            "y": {"datum": 3.38, "type": "quantitative"},
            "text": {"value": "$3.38"}
          }
        },
        {
          "data": {"values": [{}]},
          "mark": {"type": "text", "align": "left", "baseline": "middle", "fontSize": 13, "fontWeight": "bold", "color": "#000000", "dx": 5, "dy": 2},
          "encoding": {
            "x": {"datum": {"year": 2021, "month": 3, "date": 23, "utc": true}, "type": "temporal"},
            "y": {"datum": 0.56, "type": "quantitative"},
            "text": {"value": "$0.56"}
          }
        }
      ]
    }
  ],
  "resolve": {"scale": {"y": "independent"}},
  "config": {
    "font": "Carlito, Lato, sans-serif",
    "view": {"stroke": null},
    "axis": {"labelFont": "Carlito, Lato, sans-serif", "titleFont": "Carlito, Lato, sans-serif"}
  }
}
